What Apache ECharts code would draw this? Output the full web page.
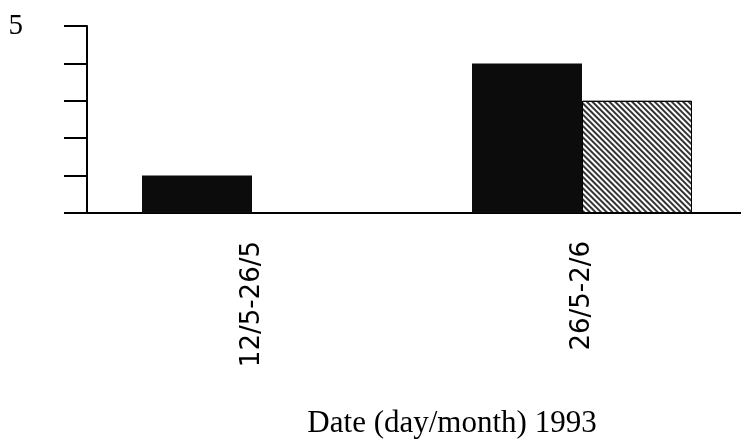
<!DOCTYPE html>
<html>
<head>
<meta charset="utf-8">
<script src="https://cdn.jsdelivr.net/npm/echarts@6/dist/echarts.min.js"></script>
<style>
  html, body { margin: 0; padding: 0; background: #fff; }
  #chart { width: 741px; height: 444px; }
</style>
</head>
<body>
<div id="chart"></div>
<script>
// chart data
const categories = ['12/5-26/5', '26/5-2/6']
const solidValues = [1, 4]
const hatchValues = [0, 3]
const yTickLabels = ['', '', '', '', '', '5']

const chart = echarts.init(document.getElementById('chart'))

const options = {
  animation: false,
  backgroundColor: '#fff',
  grid: {
    left: 87,
    right: -6,
    top: 26,
    bottom: 231,
    outerBoundsMode: 'none'
  },
  xAxis: {
    type: 'category',
    data: categories,
    name: 'Date (day/month) 1993',
    nameLocation: 'middle',
    nameGap: 195,
    nameTextStyle: {
      fontFamily: 'Liberation Serif',
      fontSize: 31,
      color: '#000',
      padding: [0, 0, 0, 70]
    },
    axisLine: { lineStyle: { color: '#000', width: 2 } },
    axisTick: { show: false },
    axisLabel: {
      rotate: 90,
      margin: 28,
      fontFamily: 'DejaVu Sans',
      fontSize: 26,
      color: '#000'
    }
  },
  yAxis: {
    type: 'value',
    min: 0,
    max: 5,
    interval: 1,
    splitLine: { show: false },
    axisLine: { show: true, lineStyle: { color: '#000', width: 2 } },
    axisTick: { show: true, length: 23, lineStyle: { color: '#000', width: 2 } },
    axisLabel: {
      margin: 64,
      fontFamily: 'Liberation Serif',
      fontSize: 29,
      color: '#000',
      formatter: (v) => yTickLabels[v]
    }
  },
  series: [
    {
      type: 'bar',
      data: solidValues,
      barWidth: 110,
      barGap: '0%',
      itemStyle: { color: '#0c0c0c' }
    },
    {
      type: 'bar',
      data: hatchValues,
      barWidth: 110,
      itemStyle: {
        color: '#ffffff',
        borderColor: '#000',
        borderWidth: 1,
        decal: {
          symbol: 'rect',
          color: '#333',
          dashArrayX: [1, 0],
          dashArrayY: [1.5, 2],
          rotation: Math.PI / 4
        }
      }
    }
  ]
}
chart.setOption(options)
</script>
</body>
</html>
